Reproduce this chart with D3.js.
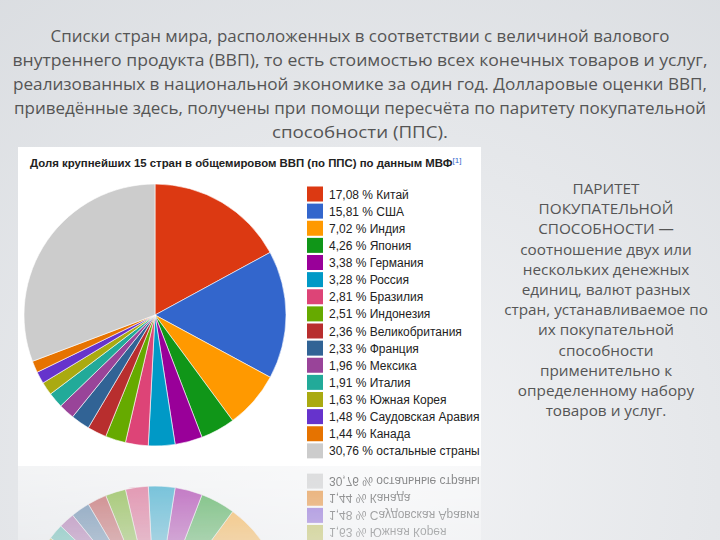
<!DOCTYPE html>
<html><head><meta charset="utf-8">
<script src="https://cdn.jsdelivr.net/npm/d3@7"></script>
<style>html,body{margin:0;padding:0;background:#e6e8eb;}svg{display:block;}</style>
</head><body>
<svg id="chart" width="720" height="540"></svg>
<script>
const titleLines = [
  "Списки стран мира, расположенных в соответствии с величиной валового",
  "внутреннего продукта (ВВП), то есть стоимостью всех конечных товаров и услуг,",
  "реализованных в национальной экономике за один год. Долларовые оценки ВВП,",
  "приведённые здесь, получены при помощи пересчёта по паритету покупательной",
  "способности (ППС)."
];
const titleWidths = [619, 695, 694, 692, 176];
const sideLines = [
  "ПАРИТЕТ", "ПОКУПАТЕЛЬНОЙ", "СПОСОБНОСТИ —", "соотношение двух или",
  "нескольких денежных", "единиц, валют разных", "стран, устанавливаемое по",
  "их покупательной", "способности", "применительно к",
  "определенному набору", "товаров и услуг."
];
const chartTitle = "Доля крупнейших 15 стран в общемировом ВВП (по ППС) по данным МВФ";
const countries = ["Китай","США","Индия","Япония","Германия","Россия","Бразилия","Индонезия",
  "Великобритания","Франция","Мексика","Италия","Южная Корея","Саудовская Аравия","Канада","остальные страны"];
const shares = [17.08,15.81,7.02,4.26,3.38,3.28,2.81,2.51,2.36,2.33,1.96,1.91,1.63,1.48,1.44,30.76];
const colors = ["#dc3912","#3366cc","#ff9900","#109618","#990099","#0099c6","#dd4477","#66aa00",
  "#b82e2e","#316395","#994499","#22aa99","#aaaa11","#6633cc","#e67300","#cccccc"];

const svg = d3.select("#chart");
const defs = svg.append("defs");
const bg = defs.append("radialGradient").attr("id","bg").attr("gradientUnits","userSpaceOnUse")
  .attr("cx",380).attr("cy",470).attr("r",650);
bg.append("stop").attr("offset",0).attr("stop-color","#f2f3f5");
bg.append("stop").attr("offset",1).attr("stop-color","#d9dce0");
svg.append("rect").attr("width",720).attr("height",540).attr("fill","url(#bg)");

// title
svg.append("g").selectAll("text").data(titleLines).join("text")
  .attr("x",360).attr("y",(d,i)=>42+i*24)
  .attr("text-anchor","middle")
  .attr("font-family","'Open Sans', 'Noto Sans', sans-serif")
  .attr("font-size",16.5).attr("fill","#555")
  .attr("textLength",(d,i)=>titleWidths[i]).attr("lengthAdjust","spacingAndGlyphs")
  .text(d=>d);

// side text
svg.append("g").selectAll("text").data(sideLines).join("text")
  .attr("x",606).attr("y",(d,i)=>194+i*20.2)
  .attr("text-anchor","middle")
  .attr("font-family","'Open Sans', 'Noto Sans', sans-serif")
  .attr("font-size",15.3).attr("fill","#555")
  .text(d=>d);

// panel
const panel = svg.append("g").attr("id","panel");
panel.append("rect").attr("x",18).attr("y",147).attr("width",463).attr("height",319).attr("fill","#ffffff");
const t = panel.append("text").attr("x",30).attr("y",167)
  .attr("font-family","'Liberation Sans', Arial, sans-serif").attr("font-weight","bold")
  .attr("font-size",11.4).attr("fill","#222");
t.append("tspan").text(chartTitle);
t.append("tspan").attr("dy",-4).attr("font-size",8).attr("font-weight","normal").attr("fill","#3366cc").text("[1]");

const cx = 155, cy = 315, r = 131;
const pie = d3.pie().sort(null).value(d=>d.v);
const data = countries.map((c,i)=>({c, v:shares[i], col:colors[i]}));
const arc = d3.arc().innerRadius(0).outerRadius(r);
panel.append("g").attr("transform",`translate(${cx},${cy})`)
  .selectAll("path").data(pie(data)).join("path")
  .attr("d",arc).attr("fill",d=>d.data.col).attr("stroke","#fff").attr("stroke-width",0.6);

const ly = d3.scaleBand().domain(countries).range([186.5, 460.5]);
const lg = panel.append("g").selectAll("g").data(data).join("g")
  .attr("transform",d=>`translate(307,${ly(d.c)})`);
lg.append("rect").attr("width",16).attr("height",15).attr("fill",d=>d.col);
lg.append("text").attr("x",22).attr("y",12)
  .attr("font-family","'Liberation Sans', Arial, sans-serif").attr("font-size",12).attr("fill","#222")
  .text(d=>d3.format(".2f")(d.v).replace(".",",")+" % "+d.c);

// reflection
const rg = defs.append("linearGradient").attr("id","fade").attr("gradientUnits","userSpaceOnUse")
  .attr("x1",0).attr("y1",466).attr("x2",0).attr("y2",540);
rg.append("stop").attr("offset",0).attr("stop-color","#fff").attr("stop-opacity",0.55);
rg.append("stop").attr("offset",1).attr("stop-color","#fff").attr("stop-opacity",0.3);
const mask = defs.append("mask").attr("id","m").attr("maskUnits","userSpaceOnUse")
  .attr("x",0).attr("y",466).attr("width",720).attr("height",74);
mask.append("rect").attr("x",0).attr("y",466).attr("width",720).attr("height",74).attr("fill","url(#fade)");
svg.append("g").attr("mask","url(#m)")
  .append("use").attr("href","#panel").attr("transform","translate(0,932) scale(1,-1)");
</script>
</body></html>
